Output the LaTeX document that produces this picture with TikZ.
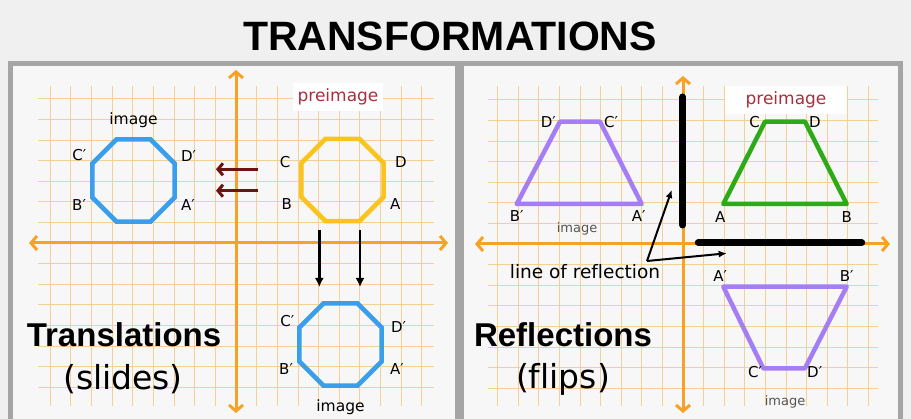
\documentclass[tikz,border=0pt]{standalone}
\usepackage{fontspec}
\setmainfont{DejaVu Sans}[Ligatures=NoCommon]
\newfontfamily\headfont{Liberation Sans}
\usetikzlibrary{arrows.meta,positioning,shapes.geometric}
\definecolor{bggray}{RGB}{240,240,240}
\definecolor{panelfill}{RGB}{247,247,247}
\definecolor{panelline}{RGB}{165,165,165}
\definecolor{gridorange}{RGB}{244,208,150}
\definecolor{axisorange}{RGB}{247,162,38}
\definecolor{octblue}{RGB}{58,158,235}
\definecolor{octyellow}{RGB}{250,196,28}
\definecolor{slidered}{RGB}{108,20,18}
\definecolor{premaroon}{RGB}{168,48,62}
\definecolor{trappurple}{RGB}{165,125,245}
\definecolor{trapgreen}{RGB}{44,170,24}
\definecolor{imagegray}{RGB}{85,85,85}
\tikzset{
  panel/.style={draw=panelline, fill=panelfill, line width=5pt},
  gridline/.style={gridorange, line width=0.9pt},
  axis/.style={axisorange, line width=3pt, {Straight Barb[length=6pt,width=14pt]}-{Straight Barb[length=6pt,width=14pt]}},
  octagon/.style={draw, regular polygon, regular polygon sides=8, minimum size=89pt, inner sep=0pt, line width=4.5pt},
  trapline/.style={line width=4.5pt, line join=round},
  vertexlabel/.style={font=\fontsize{15}{15}\selectfont, inner sep=1pt},
  tagtext/.style={font=\fontsize{15.5}{16}\selectfont, inner sep=1pt},
  smalltag/.style={font=\fontsize{13}{13}\selectfont, text=imagegray, inner sep=1pt},
  pretag/.style={font=\fontsize{17}{17}\selectfont, text=premaroon, fill=white, inner sep=0pt, minimum height=28pt},
  slidearrow/.style={slidered, line width=3pt, -{Straight Barb[length=5pt,width=12pt]}},
  movearrow/.style={line width=2.5pt, -{Latex[length=9pt,width=9pt]}},
  pointarrow/.style={line width=2pt, -{Latex[length=8pt,width=7pt]}},
  mirror/.style={line width=7pt, line cap=round},
  headtext/.style={font=\headfont\bfseries\fontsize{33}{33}\selectfont, anchor=base, inner sep=0pt},
  subtext/.style={font=\fontsize{33}{33}\selectfont, anchor=base, inner sep=0pt},
  titletext/.style={font=\headfont\bfseries\fontsize{41}{41}\selectfont, anchor=base, inner sep=0pt}
}

\begin{document}
\begin{tikzpicture}[x=1pt, y=-1pt]
  \fill[bggray] (0,0) rectangle (911,419);
  \useasboundingbox (0,0) rectangle (911,419);
  \node[titletext] (title) at (450,51) {TRANSFORMATIONS};

  \draw[panel] (10,64) rectangle (457,428);
  \draw[panel] (461,64) rectangle (900,428);

  \foreach \k in {-9,...,9} {
    \draw[gridline] ({236+20.65*\k},86) -- ({236+20.65*\k},406);
    \draw[gridline] ({683+20.6*\k},86) -- ({683+20.6*\k},406);
  }
  \foreach \k in {-7,...,7} {
    \draw[gridline] (38,{243+20.6*\k}) -- (434,{243+20.6*\k});
    \draw[gridline] (488,{244+20.6*\k}) -- (878,{244+20.6*\k});
  }

  \node[pretag, minimum width=90pt] (preL) at (338,97) {preimage};
  \node[pretag, minimum width=122pt] (preR) at (786,100) {preimage};

  \draw[axis] (29,243) -- (448,243);
  \draw[axis] (236,70) -- (236,413);
  \draw[axis] (475,244) -- (890,244);
  \draw[axis] (683,76) -- (683,413);

  % translations
  \node[octagon, draw=octblue] (imgL) at (133.5,180.5) {};
  \node[octagon, draw=octyellow] (pre) at (342.5,180) {};
  \node[octagon, draw=octblue] (imgB) at (340.5,344.5) {};

  \node[tagtext, above=8pt of imgL] (imgLtag) {image};
  \node[vertexlabel, above left=0pt and 3pt of imgL.157.5] {C′};
  \node[vertexlabel, above right=0pt and 3pt of imgL.22.5] {D′};
  \node[vertexlabel, below left=0pt and 3pt of imgL.202.5] {B′};
  \node[vertexlabel, below right=0pt and 3pt of imgL.-22.5] {A′};

  \node[vertexlabel, left=8pt of pre.157.5] {C};
  \node[vertexlabel, right=8pt of pre.22.5] {D};
  \node[vertexlabel, below left=0pt and 6pt of pre.202.5] {B};
  \node[vertexlabel, below right=0pt and 3pt of pre.-22.5] {A};

  \node[vertexlabel, above left=-2pt and 2pt of imgB.157.5] {C′};
  \node[vertexlabel, right=6pt of imgB.22.5] {D′};
  \node[vertexlabel, below left=0pt and 3pt of imgB.202.5] {B′};
  \node[vertexlabel, below right=0pt and 5pt of imgB.-22.5] {A′};
  \node[tagtext, below=11pt of imgB] (imgBtag) {image};

  \coordinate (slideA) at (258,169.3);
  \coordinate (slideAend) at (216,169.3);
  \coordinate (slideB) at (258,190.7);
  \coordinate (slideBend) at (216,190.7);
  \draw[slidearrow] (slideA) -- (slideAend);
  \draw[slidearrow] (slideB) -- (slideBend);

  \coordinate (downA) at (319.3,230);
  \coordinate (downAend) at (319.3,287);
  \coordinate (downB) at (360,230);
  \coordinate (downBend) at (360,287);
  \draw[movearrow] (downA) -- (downAend);
  \draw[movearrow] (downB) -- (downBend);

  \node[headtext] (trans) at (124,347) {Translations};
  \node[subtext] (slides) at (123,390) {(slides)};

  % reflections
  \coordinate (iA) at (641.7,204);
  \coordinate (iB) at (516.7,204);
  \coordinate (iC) at (600,121.7);
  \coordinate (iD) at (560,121.7);
  \draw[trapline, trappurple] (iA) -- (iB) -- (iD) -- (iC) -- cycle;
  \node[vertexlabel, left=3pt of iD] {D′};
  \node[vertexlabel, right=3pt of iC] {C′};
  \node[vertexlabel, below=5pt of iB] {B′};
  \node[vertexlabel, below=5pt of iA, xshift=-3pt] {A′};
  \node[smalltag] (imgRtag) at (577,229) {image};

  \coordinate (gA) at (723.3,204);
  \coordinate (gB) at (846.7,204);
  \coordinate (gC) at (765,121.7);
  \coordinate (gD) at (805,121.7);
  \draw[trapline, trapgreen] (gA) -- (gB) -- (gD) -- (gC) -- cycle;
  \node[vertexlabel, left=4pt of gC] {C};
  \node[vertexlabel, right=3pt of gD] {D};
  \node[vertexlabel, below=6pt of gA, xshift=-3pt] {A};
  \node[vertexlabel, below=6pt of gB] {B};

  \coordinate (rA) at (723.3,286.7);
  \coordinate (rB) at (846.7,286.7);
  \coordinate (rC) at (763.3,368.3);
  \coordinate (rD) at (805,368.3);
  \draw[trapline, trappurple] (rA) -- (rB) -- (rD) -- (rC) -- cycle;
  \node[vertexlabel, above=4pt of rA, xshift=-3pt] {A′};
  \node[vertexlabel, above=4pt of rB] {B′};
  \node[vertexlabel, left=0pt of rC, yshift=-4pt] {C′};
  \node[vertexlabel, right=1pt of rD, yshift=-4pt] {D′};
  \node[smalltag] (imgR2tag) at (785,402) {image};

  \coordinate (mirVtop) at (682.7,97);
  \coordinate (mirVbot) at (682.7,225);
  \coordinate (mirHleft) at (698.3,242.7);
  \coordinate (mirHright) at (861.7,242.7);
  \draw[mirror] (mirVtop) -- (mirVbot);
  \draw[mirror] (mirHleft) -- (mirHright);

  \node[tagtext, font=\fontsize{18.5}{19}\selectfont, anchor=base] (lor) at (585,279) {line of reflection};
  \coordinate (fork) at (647,261);
  \coordinate (forkV) at (671.7,190);
  \coordinate (forkH) at (726.7,253.3);
  \draw[pointarrow] (fork) -- (forkV);
  \draw[pointarrow] (fork) -- (forkH);

  \node[headtext] (refl) at (563,347) {Reflections};
  \node[subtext] (flips) at (563,389) {(flips)};
\end{tikzpicture}
\end{document}
